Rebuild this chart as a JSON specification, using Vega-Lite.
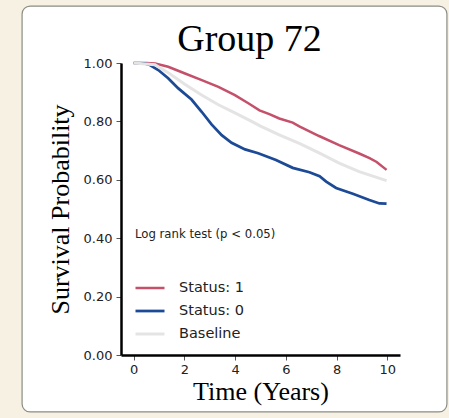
{
  "$schema": "https://vega.github.io/schema/vega-lite/v6.json",
  "width": 279,
  "height": 292,
  "autosize": {"type": "none"},
  "padding": {"left": 121, "top": 63, "right": 49, "bottom": 63},
  "background": "#f6f1e2",
  "title": {
    "text": "Group 72",
    "font": "Liberation Serif",
    "fontSize": 38,
    "fontWeight": "normal",
    "color": "#000000",
    "anchor": "middle",
    "frame": "group",
    "baseline": "alphabetic",
    "dx": -11,
    "dy": 40,
    "offset": -44,
    "zindex": 1
  },
  "config": {
    "view": {"stroke": null},
    "axis": {"zindex": 1, "grid": false},
    "legend": {"zindex": 1}
  },
  "data": {
    "values": [
      {"time": 0, "surv": 1.0, "group": "Status: 1"},
      {"time": 0.5, "surv": 1.0, "group": "Status: 1"},
      {"time": 0.85, "surv": 0.998, "group": "Status: 1"},
      {"time": 1.36, "surv": 0.987, "group": "Status: 1"},
      {"time": 2.0, "surv": 0.965, "group": "Status: 1"},
      {"time": 2.66, "surv": 0.942, "group": "Status: 1"},
      {"time": 3.34, "surv": 0.918, "group": "Status: 1"},
      {"time": 3.99, "surv": 0.89, "group": "Status: 1"},
      {"time": 4.52, "surv": 0.862, "group": "Status: 1"},
      {"time": 4.96, "surv": 0.838, "group": "Status: 1"},
      {"time": 5.35, "surv": 0.825, "group": "Status: 1"},
      {"time": 5.74, "surv": 0.81, "group": "Status: 1"},
      {"time": 6.27, "surv": 0.796, "group": "Status: 1"},
      {"time": 6.53, "surv": 0.783, "group": "Status: 1"},
      {"time": 7.31, "surv": 0.75, "group": "Status: 1"},
      {"time": 8.1, "surv": 0.719, "group": "Status: 1"},
      {"time": 8.89, "surv": 0.69, "group": "Status: 1"},
      {"time": 9.3, "surv": 0.674, "group": "Status: 1"},
      {"time": 9.58, "surv": 0.661, "group": "Status: 1"},
      {"time": 9.97, "surv": 0.634, "group": "Status: 1"},
      {"time": 0, "surv": 1.0, "group": "Status: 0"},
      {"time": 0.4, "surv": 0.999, "group": "Status: 0"},
      {"time": 0.64, "surv": 0.993, "group": "Status: 0"},
      {"time": 0.97, "surv": 0.976, "group": "Status: 0"},
      {"time": 1.36, "surv": 0.948, "group": "Status: 0"},
      {"time": 1.76, "surv": 0.913, "group": "Status: 0"},
      {"time": 2.28, "surv": 0.875, "group": "Status: 0"},
      {"time": 2.68, "surv": 0.833, "group": "Status: 0"},
      {"time": 3.07, "surv": 0.79, "group": "Status: 0"},
      {"time": 3.47, "surv": 0.753, "group": "Status: 0"},
      {"time": 3.86, "surv": 0.727, "group": "Status: 0"},
      {"time": 4.39, "surv": 0.704, "group": "Status: 0"},
      {"time": 4.91, "surv": 0.691, "group": "Status: 0"},
      {"time": 5.61, "surv": 0.668, "group": "Status: 0"},
      {"time": 6.27, "surv": 0.641, "group": "Status: 0"},
      {"time": 6.93, "surv": 0.626, "group": "Status: 0"},
      {"time": 7.33, "surv": 0.612, "group": "Status: 0"},
      {"time": 7.59, "surv": 0.594, "group": "Status: 0"},
      {"time": 7.98, "surv": 0.572, "group": "Status: 0"},
      {"time": 8.64, "surv": 0.552, "group": "Status: 0"},
      {"time": 9.29, "surv": 0.531, "group": "Status: 0"},
      {"time": 9.69, "surv": 0.519, "group": "Status: 0"},
      {"time": 9.97, "surv": 0.518, "group": "Status: 0"},
      {"time": 0, "surv": 1.0, "group": "Baseline"},
      {"time": 0.84, "surv": 0.994, "group": "Baseline"},
      {"time": 1.36, "surv": 0.967, "group": "Baseline"},
      {"time": 2.0, "surv": 0.928, "group": "Baseline"},
      {"time": 2.66, "surv": 0.891, "group": "Baseline"},
      {"time": 3.34, "surv": 0.857, "group": "Baseline"},
      {"time": 3.99, "surv": 0.829, "group": "Baseline"},
      {"time": 4.65, "surv": 0.8, "group": "Baseline"},
      {"time": 5.0, "surv": 0.784, "group": "Baseline"},
      {"time": 5.74, "surv": 0.754, "group": "Baseline"},
      {"time": 6.53, "surv": 0.725, "group": "Baseline"},
      {"time": 7.31, "surv": 0.692, "group": "Baseline"},
      {"time": 8.1, "surv": 0.657, "group": "Baseline"},
      {"time": 8.89, "surv": 0.628, "group": "Baseline"},
      {"time": 9.97, "surv": 0.597, "group": "Baseline"}
    ]
  },
  "layer": [
    {
      "data": {"values": [{}]},
      "mark": {"type": "rect", "fill": "#ffffff", "stroke": "#8c8c84", "strokeWidth": 1.2, "cornerRadius": 8, "clip": false},
      "encoding": {
        "x": {"datum": -4.4, "type": "quantitative", "scale": {"domain": [-0.5, 10.5]}},
        "x2": {"datum": 12.35},
        "y": {"datum": -0.195, "type": "quantitative", "scale": {"domain": [0, 1]}},
        "y2": {"datum": 1.195}
      }
    },
    {
      "mark": {"type": "line", "clip": false},
      "encoding": {
        "x": {
          "field": "time",
          "type": "quantitative",
          "scale": {"domain": [-0.5, 10.5], "nice": false, "zero": false},
          "axis": {
            "zindex": 1,
            "values": [0, 2, 4, 6, 8, 10],
            "title": "Time (Years)",
            "titleFont": "Liberation Serif",
            "titleFontSize": 26,
            "titleFontWeight": "normal",
            "titleColor": "#000000",
            "titlePadding": 2,
            "labelFont": "DejaVu Sans",
            "labelFontSize": 13,
            "labelColor": "#222222",
            "labelPadding": 3,
            "domainColor": "#000000",
            "domainWidth": 2.5,
            "tickColor": "#555555",
            "tickSize": 5
          }
        },
        "y": {
          "field": "surv",
          "type": "quantitative",
          "scale": {"domain": [0, 1], "nice": false},
          "axis": {
            "zindex": 1,
            "values": [0, 0.2, 0.4, 0.6, 0.8, 1.0],
            "format": ".2f",
            "title": "Survival Probability",
            "titleFont": "Liberation Serif",
            "titleFontSize": 26,
            "titleFontWeight": "normal",
            "titleColor": "#000000",
            "titlePadding": 10,
            "labelFont": "DejaVu Sans",
            "labelFontSize": 13,
            "labelColor": "#222222",
            "labelPadding": 4,
            "domainColor": "#000000",
            "domainWidth": 2.5,
            "tickColor": "#555555",
            "tickSize": 5
          }
        },
        "color": {
          "field": "group",
          "type": "nominal",
          "scale": {"domain": ["Status: 1", "Status: 0", "Baseline"], "range": ["#c4506a", "#1c4a96", "#e4e4e4"]},
          "legend": {
            "orient": "none",
            "legendX": 13,
            "legendY": 209,
            "title": null,
            "symbolType": "stroke",
            "symbolSize": 841,
            "symbolStrokeWidth": 2.5,
            "labelFont": "DejaVu Sans",
            "labelFontSize": 14.5,
            "labelColor": "#222222",
            "labelOffset": 13,
            "rowPadding": -3
          }
        },
        "strokeWidth": {
          "field": "group",
          "type": "nominal",
          "scale": {"domain": ["Status: 1", "Status: 0", "Baseline"], "range": [2.5, 3, 1.2]},
          "legend": null
        }
      }
    },
    {
      "data": {"values": [{"label": "Log rank test (p < 0.05)", "time": 0.05, "surv": 0.414}]},
      "mark": {"type": "text", "align": "left", "baseline": "middle", "font": "DejaVu Sans", "fontSize": 11.7, "color": "#222222"},
      "encoding": {
        "x": {"field": "time", "type": "quantitative"},
        "y": {"field": "surv", "type": "quantitative"},
        "text": {"field": "label"}
      }
    }
  ]
}
